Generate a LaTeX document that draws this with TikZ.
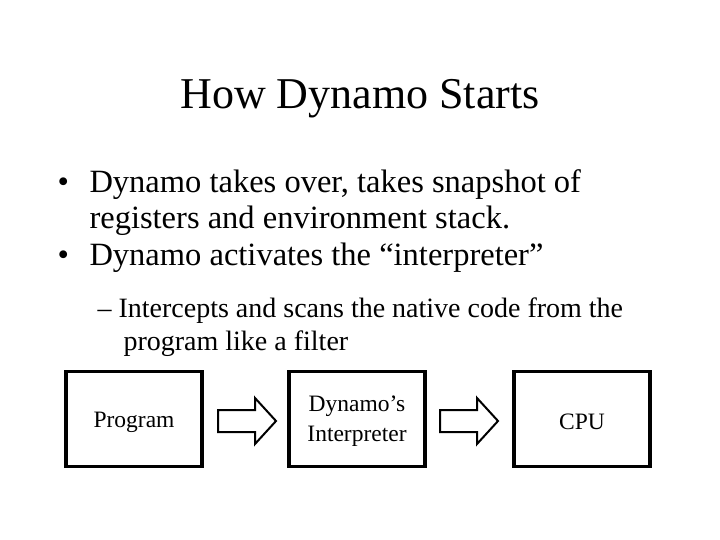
\documentclass[tikz,border=0pt]{standalone}
\usepackage{fontspec}
\setmainfont{Liberation Serif}
\begin{document}
\begin{tikzpicture}[x=1pt,y=-1pt,
  box/.style={draw,line width=3.5pt,minimum width=136pt,minimum height=95pt,inner sep=0pt},
  lbl/.style={align=center,font=\fontsize{23.5}{30}\selectfont,inner sep=0pt},
  barrow/.style={draw,line width=2pt,fill=white}]
\useasboundingbox (0,0) rectangle (720,540);
\node[font=\fontsize{44}{48}\selectfont] (title) at (360,99) {How Dynamo Starts};
\node[anchor=base west,font=\fontsize{32.5}{36}\selectfont] (b1) at (54,193) {•};
\node[anchor=base west,font=\fontsize{32.5}{36}\selectfont] (t1) at (86,193) {Dynamo takes over, takes snapshot of};
\node[anchor=base west,font=\fontsize{32.5}{36}\selectfont] (t1b) at (86,229) {registers and environment stack.};
\node[anchor=base west,font=\fontsize{32.5}{36}\selectfont] (b2) at (54,265) {•};
\node[anchor=base west,font=\fontsize{32.5}{36}\selectfont] (t2) at (86,265) {Dynamo activates the “interpreter”};
\node[anchor=base west,font=\fontsize{28}{32}\selectfont] (t3) at (94,317) {– Intercepts and scans the native code from the};
\node[anchor=base west,font=\fontsize{28}{32}\selectfont] (t3b) at (120,350) {program like a filter};
\node[box] (p) at (134,419) {};
\node[box] (d) at (357,419) {};
\node[box] (c) at (582,419) {};
\node[lbl] (pl) at ([yshift=-3pt]p.center) {Program};
\node[lbl] (dl) at ([yshift=-2pt]d.center) {Dynamo’s\\Interpreter};
\node[lbl] (cl) at ([yshift=-3pt]c.center) {CPU};
\foreach \s/\n in {218/a1,440/a2}{
  \draw[barrow] (\s,410) -- (\s+37,410) -- (\s+37,398) -- (\s+58,421) -- (\s+37,444) -- (\s+37,432) -- (\s,432) -- cycle;
}
\end{tikzpicture}
\end{document}
